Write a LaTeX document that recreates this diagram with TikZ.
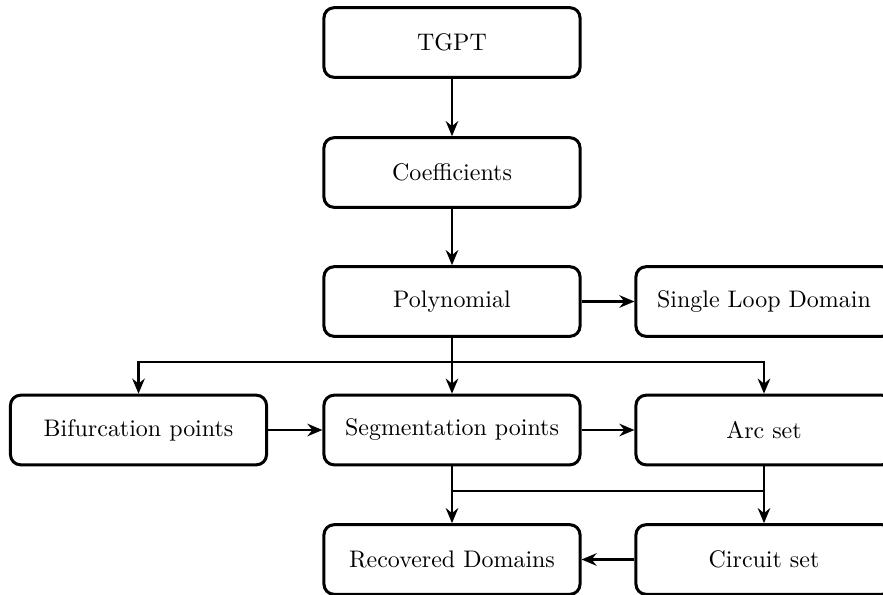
\documentclass[tikz,border=0pt]{standalone}
\usetikzlibrary{arrows.meta}
\begin{document}
\begin{tikzpicture}[x=0.3964pt,y=-0.3964pt,
  box/.style={draw,line width=1.2pt,rounded corners=4pt,minimum width=101.5pt,minimum height=27.6pt,inner sep=0pt,font=\fontsize{9.5pt}{11pt}\selectfont},
  arr/.style={line width=0.8pt,-{Stealth[length=6pt,width=5pt,inset=2pt]}},
  ln/.style={line width=0.8pt}]
\useasboundingbox (0,0) rectangle (883,594);
\clip (0,0) rectangle (883,594);
\node[box] (tgpt) at (452,42.5) {TGPT};
\node[box] (coef) at (452,172.5) {Coefficients};
\node[box] (poly) at (452,301.5) {Polynomial};
\node[box] (single) at (764,301.5) {Single Loop Domain};
\node[box] (bif) at (138.5,430) {Bifurcation points};
\node[box] (seg) at (452,430) {Segmentation points};
\node[box] (arc) at (764,430) {Arc set};
\node[box] (rec) at (452,559.5) {Recovered Domains};
\node[box] (circ) at (764,559.5) {Circuit set};
\coordinate (j1) at (452,362);
\coordinate (j2) at (452,491);
\draw[arr] (tgpt) -- (coef);
\draw[arr] (coef) -- (poly);
\draw[arr] (poly) -- (single);
\draw[arr] (poly) -- (seg);
\draw[arr] (j1) -| (bif.north);
\draw[arr] (j1) -| (arc.north);
\draw[arr] (bif) -- (seg);
\draw[arr] (seg) -- (arc);
\draw[arr] (seg) -- (rec);
\draw[arr] (arc) -- (circ);
\draw[ln] (j2) -- (j2 -| arc.south);
\draw[arr] (circ) -- (rec);
\end{tikzpicture}
\end{document}
